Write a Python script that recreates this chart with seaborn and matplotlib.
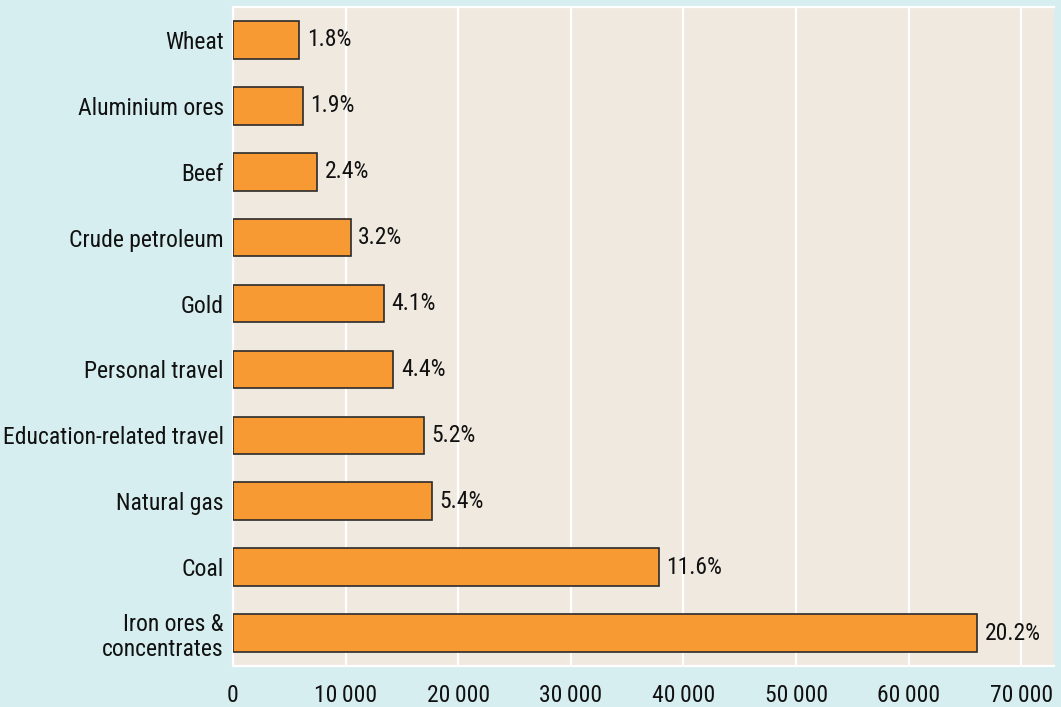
import numpy as np
import pandas as pd
import matplotlib
matplotlib.use('Agg')
import matplotlib.pyplot as plt
import seaborn as sns
from matplotlib.ticker import FixedLocator, FuncFormatter

# export values, top bar first
categories = ['Wheat', 'Aluminium ores', 'Beef', 'Crude petroleum', 'Gold',
              'Personal travel', 'Education-related travel', 'Natural gas',
              'Coal', 'Iron ores &\nconcentrates']
values = [5900, 6200, 7500, 10450, 13400, 14250, 17000, 17650, 37850, 66100]
shares = ['1.8%', '1.9%', '2.4%', '3.2%', '4.1%', '4.4%', '5.2%', '5.4%', '11.6%', '20.2%']
xticks = [0, 10000, 20000, 30000, 40000, 50000, 60000, 70000]

bg_fig = '#d6eef0'
bg_ax = '#f0e9e0'
bar_col = '#f89a34'

sns.set_style('white', {'axes.facecolor': bg_ax, 'figure.facecolor': bg_fig})
plt.rcParams['font.family'] = ['Roboto Condensed', 'DejaVu Sans']

data = pd.DataFrame({'Category': categories, 'Value': values})

fig = plt.figure(figsize=(10.61, 7.07), dpi=100)
ax = fig.add_axes([233 / 1061, 1 - 666 / 707, (1054 - 233) / 1061, (666 - 7) / 707])

sns.barplot(data=data, x='Value', y='Category', orient='h', color=bar_col,
            saturation=1, width=0.57, edgecolor='#2b2b2b', linewidth=1.2, ax=ax, zorder=3)

# share labels to the right of each bar
for i, (v, s) in enumerate(zip(values, shares)):
    ax.text(v + 650, i, s, va='center', ha='left', fontsize=17, color='#111111')

ax.set_xlim(0, 72900)
ax.set_ylim(len(categories) - 0.5, -0.5)
ax.set_xlabel('')
ax.set_ylabel('')

ax.xaxis.set_major_locator(FixedLocator(xticks))
ax.xaxis.set_major_formatter(FuncFormatter(lambda x, p: f'{int(x):,}'.replace(',', '\u2009')))
ax.grid(axis='x', color='white', linewidth=1.6, zorder=0)
ax.set_axisbelow(True)

# white separators between categories
ax.yaxis.set_minor_locator(FixedLocator(np.arange(-0.5, len(categories), 1)))
ax.tick_params(axis='y', which='major', length=0, pad=6.5, labelsize=17, labelcolor='#111111')
ax.tick_params(axis='y', which='minor', length=8, width=1.6, color='white')
ax.tick_params(axis='x', which='major', length=8, width=1.6, color='white', pad=5,
               labelsize=17, labelcolor='#111111')
for lab in ax.get_yticklabels():
    lab.set_horizontalalignment('right')
    lab.set_multialignment('right')
    lab.set_linespacing(1.15)

for side in ['left', 'bottom', 'top']:
    ax.spines[side].set_color('white')
    ax.spines[side].set_linewidth(1.6)
ax.spines['right'].set_visible(False)

fig.savefig('out.png', dpi=100, facecolor=bg_fig)
